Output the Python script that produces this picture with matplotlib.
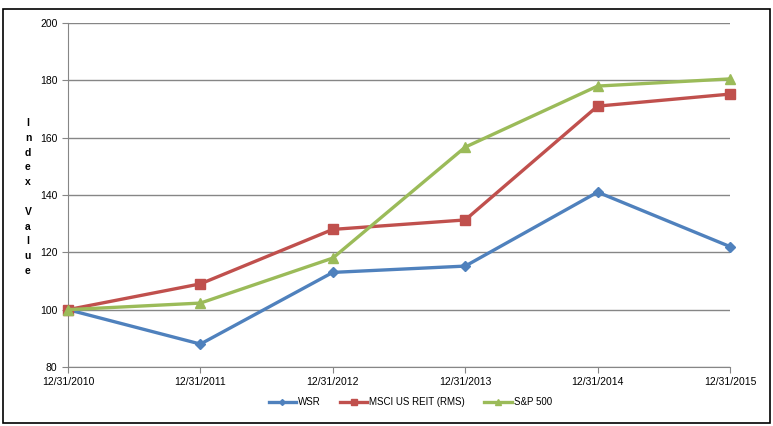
import matplotlib.pyplot as plt
from matplotlib.patches import Rectangle

# données
dates = ['12/31/2010', '12/31/2011', '12/31/2012', '12/31/2013', '12/31/2014', '12/31/2015']
wsr = [100, 88, 113, 115.2, 141, 122]
msci = [100, 109, 128, 131.3, 171, 175.2]
sp500 = [100, 102.3, 118, 156.7, 178, 180.5]

plt.rcParams['font.family'] = ['Liberation Sans', 'DejaVu Sans']

fig = plt.figure(figsize=(7.73, 4.26), dpi=100)
ax = fig.add_axes([68 / 773, 1 - 367 / 426, (730 - 68) / 773, (367 - 23) / 426])

x = range(len(dates))
ax.plot(x, wsr, color='#4F81BD', lw=2.4, marker='D', ms=5, label='WSR', zorder=3, clip_on=False)
ax.plot(x, msci, color='#C0504D', lw=2.4, marker='s', ms=6.5, label='MSCI US REIT (RMS)', zorder=3,
        clip_on=False)
ax.plot(x, sp500, color='#9BBB59', lw=2.4, marker='^', ms=7.5, label='S&P 500', zorder=3, clip_on=False)

ax.set_xlim(0, len(dates) - 1)
ax.set_ylim(80, 200)
ax.set_yticks(range(80, 201, 20))
ax.set_xticks(list(x))
ax.set_xticklabels(dates)
ax.tick_params(labelsize=7.5, color='#868686', length=4)
ax.tick_params(axis='y', direction='out', length=4)
ax.grid(axis='y', color='#868686', lw=1)
ax.set_axisbelow(True)
for side in ['top', 'right']:
    ax.spines[side].set_visible(False)
for side in ['left', 'bottom']:
    ax.spines[side].set_color('#868686')

fig.text(28 / 773, 1 - 197 / 426, 'I\nn\nd\ne\nx\n\nV\na\nl\nu\ne', ha='center', va='center',
         fontsize=7.5, fontweight='bold', linespacing=1.6)

ax.legend(loc='center', bbox_to_anchor=(0.517, -0.103), ncol=3, frameon=False, fontsize=7,
          handlelength=2.8, handletextpad=0.2, columnspacing=2.0, markerscale=0.6)

fig.add_artist(Rectangle((3 / 773, 3 / 426), 767 / 773, 414 / 426, transform=fig.transFigure,
                         fill=False, edgecolor='black', lw=1.2))

plt.savefig('out.png', dpi=100)
